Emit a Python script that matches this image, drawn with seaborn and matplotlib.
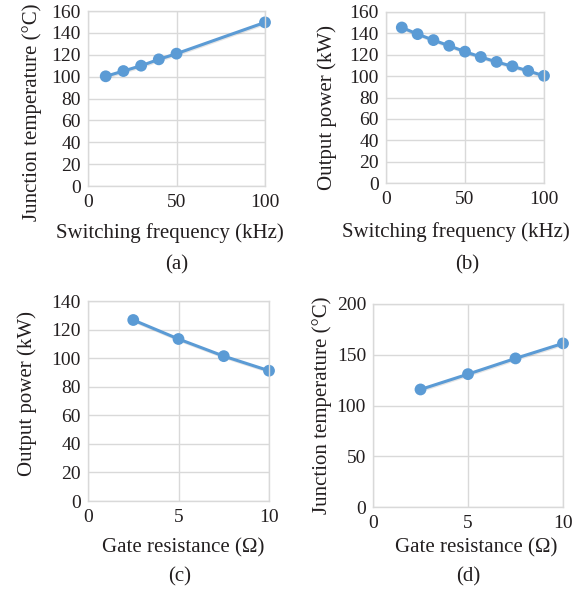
import matplotlib
matplotlib.use("Agg")
import matplotlib.pyplot as plt
import matplotlib.patheffects as pe
import seaborn as sns

# (a) switching frequency vs junction temperature
freq_a = [10, 20, 30, 40, 50, 100]
temp_a = [100.3, 105.1, 110.0, 115.8, 121.0, 149.6]

# (b) switching frequency vs output power
freq_b = [10, 20, 30, 40, 50, 60, 70, 80, 90, 100]
power_b = [145.5, 139.3, 133.7, 128.4, 122.9, 117.9, 113.3, 109.2, 104.9, 100.3]

# (c) gate resistance vs output power
rg_c = [2.5, 5, 7.5, 10]
power_c = [126.7, 113.4, 101.4, 91.2]

# (d) gate resistance vs junction temperature
rg_d = [2.5, 5, 7.5, 10]
temp_d = [115.8, 130.9, 146.4, 161.2]

# Style ......................................................................

sns.set_theme(style = "white")
plt.rcParams["font.family"] = ["Liberation Serif", "DejaVu Serif"]
plt.rcParams["font.size"] = 14

blue = "#5B9BD5"
grid_col = "#D9D9D9"
text_col = "#231F20"

W, H = 587, 592
fig = plt.figure(figsize = (W / 100, H / 100), dpi = 100)

def px_axes(left, top, right, bottom):
    return fig.add_axes([left / W, 1 - bottom / H, (right - left) / W, (bottom - top) / H])

def fig_xy(x, y):
    return x / W, 1 - y / H

def panel(ax, x, y, xlim, xticks, ylim, yticks, xlabel, ylabel, xlab_pos, ylab_pos, caption, cap_pos):
    sns.lineplot(x = x, y = y, ax = ax, color = blue, linewidth = 2.2, marker = "o",
                 markersize = 8.5, markeredgewidth = 0, clip_on = False,
                 path_effects = [pe.SimpleLineShadow(offset = (0.5, -0.8), alpha = 0.1,
                                                     shadow_color = "black"),
                                 pe.Normal()])
    ax.set_xlim(*xlim)
    ax.set_ylim(*ylim)
    ax.set_xticks(xticks)
    ax.set_yticks(yticks)
    ax.grid(True, color = grid_col, linewidth = 1)
    for s in ax.spines.values():
        s.set_color(grid_col)
        s.set_linewidth(1)
    ax.tick_params(axis = "both", length = 0, labelsize = 14, colors = text_col)
    ax.tick_params(axis = "y", pad = 5)
    ax.tick_params(axis = "x", pad = 6)
    ax.set_xlabel(xlabel, fontsize = 15, color = text_col)
    ax.set_ylabel(ylabel, fontsize = 15, color = text_col)
    ax.xaxis.set_label_coords(*fig_xy(*xlab_pos), transform = fig.transFigure)
    ax.yaxis.set_label_coords(*fig_xy(*ylab_pos), transform = fig.transFigure)
    ax.xaxis.label.set_va("center")
    ax.yaxis.label.set_va("center")
    fig.text(*fig_xy(*cap_pos), caption, ha = "center", va = "center", fontsize = 15, color = text_col)

# Panels .....................................................................

ax_a = px_axes(88, 11, 265, 186)
panel(ax_a, freq_a, temp_a, (0, 100), [0, 50, 100], (0, 160), range(0, 161, 20),
      "Switching frequency (kHz)", "Junction temperature (°C)",
      (170, 233), (32, 112), "(a)", (177, 265))

ax_b = px_axes(386, 12, 544, 183)
panel(ax_b, freq_b, power_b, (0, 100), [0, 50, 100], (0, 160), range(0, 161, 20),
      "Switching frequency (kHz)", "Output power (kW)",
      (456, 232), (327, 107), "(b)", (467, 265))

ax_c = px_axes(88, 301, 269, 501)
panel(ax_c, rg_c, power_c, (0, 10), [0, 5, 10], (0, 140), range(0, 141, 20),
      "Gate resistance (Ω)", "Output power (kW)",
      (183, 548), (27, 394), "(c)", (180, 577))

ax_d = px_axes(373, 304, 563, 507)
panel(ax_d, rg_d, temp_d, (0, 10), [0, 5, 10], (0, 200), range(0, 201, 50),
      "Gate resistance (Ω)", "Junction temperature (°C)",
      (476, 548), (322, 405), "(d)", (468, 577))

fig.savefig("out.png", dpi = 100)
